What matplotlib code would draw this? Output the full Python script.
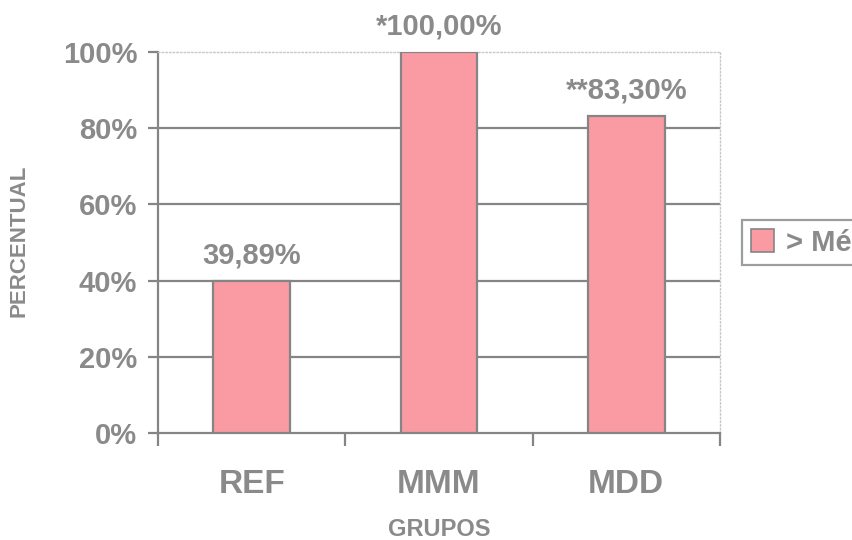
import matplotlib
matplotlib.use("Agg")
import matplotlib.pyplot as plt
from matplotlib.patches import Patch
from matplotlib.ticker import FixedLocator, PercentFormatter

# ── Data ───────────────────────────────────────────────────────────────
GROUPS = ["REF", "MMM", "MDD"]
VALUES = [39.89, 100.00, 83.30]
LABELS = ["39,89%", "*100,00%", "**83,30%"]
Y_TICKS = [0, 20, 40, 60, 80, 100]
LEGEND_LABEL = "> Média"

# ── Style ──────────────────────────────────────────────────────────────
BAR_COLOR = "#FA9AA2"
EDGE = "#858585"
TEXT = "#8A8A8A"
LIGHT = "#C8C8C8"

plt.rcParams["font.family"] = ["Liberation Sans", "DejaVu Sans"]
plt.rcParams["font.weight"] = "bold"

fig = plt.figure(figsize=(8.52, 5.4), dpi=100)
fig.patch.set_facecolor("white")
ax = fig.add_axes([0.1855, 0.198, 0.6595, 0.7057])

x = list(range(len(GROUPS)))
bars = ax.bar(x, VALUES, width=0.41, color=BAR_COLOR, edgecolor=EDGE,
              linewidth=1.6, zorder=3)

for b, lab in zip(bars, LABELS):
    ax.annotate(lab, xy=(b.get_x() + b.get_width() / 2, b.get_height()),
                xytext=(0, 8), textcoords="offset points",
                ha="center", va="bottom", fontsize=21, fontweight="bold",
                color=TEXT, zorder=5, annotation_clip=False)

ax.set_xlim(-0.5, len(GROUPS) - 0.5)
ax.set_ylim(0, 100)

# gridlines below 100%
for y in Y_TICKS[1:-1]:
    ax.axhline(y, color=EDGE, linewidth=1.6, zorder=1)

ax.set_yticks(Y_TICKS)
ax.yaxis.set_major_formatter(PercentFormatter(decimals=0))
ax.tick_params(axis="y", direction="out", length=7, width=1.6, color=EDGE,
               labelsize=21, labelcolor=TEXT, pad=8)

ax.set_xticks(x)
ax.set_xticklabels(GROUPS)
ax.xaxis.set_minor_locator(FixedLocator([-0.5, 0.5, 1.5, 2.5]))
ax.tick_params(axis="x", which="major", length=0, labelsize=24,
               labelcolor=TEXT, pad=26)
ax.tick_params(axis="x", which="minor", direction="out", length=9,
               width=1.6, color=EDGE)

for side in ("left", "bottom"):
    ax.spines[side].set_color(EDGE)
    ax.spines[side].set_linewidth(1.6)
for side in ("top", "right"):
    ax.spines[side].set_color(LIGHT)
    ax.spines[side].set_linewidth(1.0)
    ax.spines[side].set_linestyle(":")

ax.set_ylabel("PERCENTUAL", fontsize=16, fontweight="bold", color=TEXT,
              va="center")
ax.yaxis.set_label_coords(-0.247, 0.505)
ax.set_xlabel("GRUPOS", fontsize=17, fontweight="bold", color=TEXT)
ax.xaxis.set_label_coords(0.5, -0.222)

handles = [Patch(facecolor=BAR_COLOR, edgecolor=EDGE, linewidth=1.2,
                 label=LEGEND_LABEL)]
leg = ax.legend(handles=handles, loc="center left",
                bbox_to_anchor=(1.04, 0.5), fontsize=21, frameon=True,
                fancybox=False, edgecolor=EDGE, handlelength=0.8,
                handleheight=0.8, handletextpad=0.4, borderpad=0.3,
                borderaxespad=0)
leg.get_frame().set_linewidth(1.6)
for t in leg.get_texts():
    t.set_color(TEXT)

fig.savefig("out.png", dpi=100)
